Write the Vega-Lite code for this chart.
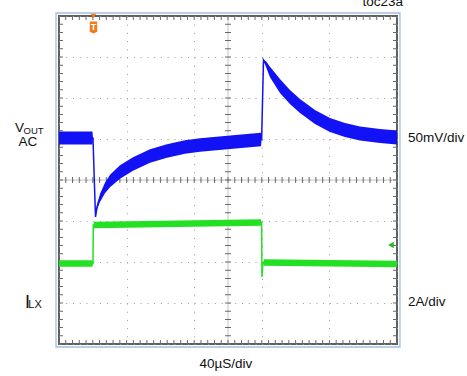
{
  "$schema": "https://vega.github.io/schema/vega-lite/v6.json",
  "width": 338,
  "height": 328,
  "autosize": {"type": "none"},
  "padding": {"left": 59, "top": 16, "right": 70, "bottom": 32},
  "background": "white",
  "config": {
    "view": {"stroke": "#5e5e5e", "strokeWidth": 2},
    "text": {"font": "Liberation Sans", "color": "#111111", "fontSize": 13.5}
  },
  "datasets": {
    "traces": [
      {"ch": "VOUT", "t": 0, "v": 1.024, "lo": 0.864, "hi": 1.184},
      {"ch": "VOUT", "t": 39.6, "v": 1.024, "lo": 0.864, "hi": 1.184},
      {"ch": "VOUT", "t": 40.2, "v": 1.024, "lo": 1.024, "hi": 1.024},
      {"ch": "VOUT", "t": 43.2, "v": -0.902, "lo": -0.902, "hi": -0.902},
      {"ch": "VOUT", "t": 45.0, "v": -0.659, "lo": -0.719, "hi": -0.599},
      {"ch": "VOUT", "t": 48.5, "v": -0.439, "lo": -0.539, "hi": -0.339},
      {"ch": "VOUT", "t": 54.4, "v": -0.195, "lo": -0.325, "hi": -0.065},
      {"ch": "VOUT", "t": 60.4, "v": -0.024, "lo": -0.174, "hi": 0.126},
      {"ch": "VOUT", "t": 72.2, "v": 0.195, "lo": 0.03, "hi": 0.36},
      {"ch": "VOUT", "t": 87.6, "v": 0.39, "lo": 0.225, "hi": 0.555},
      {"ch": "VOUT", "t": 107.7, "v": 0.585, "lo": 0.42, "hi": 0.75},
      {"ch": "VOUT", "t": 127.8, "v": 0.707, "lo": 0.542, "hi": 0.872},
      {"ch": "VOUT", "t": 149.1, "v": 0.805, "lo": 0.64, "hi": 0.97},
      {"ch": "VOUT", "t": 166.9, "v": 0.854, "lo": 0.689, "hi": 1.019},
      {"ch": "VOUT", "t": 205.9, "v": 0.927, "lo": 0.762, "hi": 1.092},
      {"ch": "VOUT", "t": 239.0, "v": 0.988, "lo": 0.823, "hi": 1.153},
      {"ch": "VOUT", "t": 239.8, "v": 0.988, "lo": 0.988, "hi": 0.988},
      {"ch": "VOUT", "t": 242.0, "v": 2.927, "lo": 2.927, "hi": 2.927},
      {"ch": "VOUT", "t": 245.0, "v": 2.829, "lo": 2.759, "hi": 2.899},
      {"ch": "VOUT", "t": 249.7, "v": 2.634, "lo": 2.504, "hi": 2.764},
      {"ch": "VOUT", "t": 261.5, "v": 2.293, "lo": 2.123, "hi": 2.463},
      {"ch": "VOUT", "t": 273.3, "v": 2.024, "lo": 1.854, "hi": 2.194},
      {"ch": "VOUT", "t": 285.2, "v": 1.805, "lo": 1.635, "hi": 1.975},
      {"ch": "VOUT", "t": 302.9, "v": 1.537, "lo": 1.367, "hi": 1.707},
      {"ch": "VOUT", "t": 320.7, "v": 1.341, "lo": 1.171, "hi": 1.511},
      {"ch": "VOUT", "t": 338.4, "v": 1.22, "lo": 1.05, "hi": 1.39},
      {"ch": "VOUT", "t": 356.2, "v": 1.134, "lo": 0.964, "hi": 1.304},
      {"ch": "VOUT", "t": 379.9, "v": 1.073, "lo": 0.903, "hi": 1.243},
      {"ch": "VOUT", "t": 400, "v": 1.037, "lo": 0.867, "hi": 1.207},
      {"ch": "ILX", "t": 0, "v": -2.037, "lo": -2.115, "hi": -1.959},
      {"ch": "ILX", "t": 39.6, "v": -2.037, "lo": -2.115, "hi": -1.959},
      {"ch": "ILX", "t": 40.2, "v": -2.037, "lo": -2.037, "hi": -2.037},
      {"ch": "ILX", "t": 40.6, "v": -1.098, "lo": -1.098, "hi": -1.098},
      {"ch": "ILX", "t": 41.4, "v": -1.098, "lo": -1.178, "hi": -1.018},
      {"ch": "ILX", "t": 239.0, "v": -1.037, "lo": -1.117, "hi": -0.957},
      {"ch": "ILX", "t": 239.8, "v": -1.037, "lo": -1.037, "hi": -1.037},
      {"ch": "ILX", "t": 240.2, "v": -2.366, "lo": -2.366, "hi": -2.366},
      {"ch": "ILX", "t": 241.4, "v": -2.024, "lo": -2.024, "hi": -2.024},
      {"ch": "ILX", "t": 242.6, "v": -2.012, "lo": -2.092, "hi": -1.932},
      {"ch": "ILX", "t": 320.7, "v": -2.032, "lo": -2.112, "hi": -1.952},
      {"ch": "ILX", "t": 400, "v": -2.049, "lo": -2.129, "hi": -1.969}
    ]
  },
  "layer": [
    {
      "data": {"name": "traces"},
      "mark": {"type": "area", "clip": true, "opacity": 0},
      "encoding": {
        "x": {"field": "t", "type": "quantitative",
              "scale": {"domain": [0, 400], "nice": false, "zero": false},
              "axis": {"values": [0, 40, 80, 120, 160, 200, 240, 280, 320, 360, 400], "grid": true, "gridDash": [1, 7.2], "gridColor": "#9a9a9a", "domain": false, "ticks": false, "labels": false, "title": null}},
        "y": {"field": "lo", "type": "quantitative",
              "scale": {"domain": [-4, 4], "nice": false, "zero": false},
              "axis": {"values": [-4, -3, -2, -1, 0, 1, 2, 3, 4], "grid": true, "gridDash": [1, 5.76], "gridColor": "#9a9a9a", "domain": false, "ticks": false, "labels": false, "title": null}},
        "y2": {"field": "hi"},
        "color": {"field": "ch", "type": "nominal", "scale": {"domain": ["VOUT", "ILX"], "range": ["#1212f5", "#24e024"]}, "legend": null}
      }
    },
    {
      "data": {"values": [{}]},
      "mark": {"type": "rule", "color": "#c4c4c4", "strokeWidth": 1},
      "encoding": {"y": {"datum": 0}}
    },
    {
      "data": {"values": [{}]},
      "mark": {"type": "rule", "color": "#c4c4c4", "strokeWidth": 1},
      "encoding": {"x": {"datum": 200}}
    },
    {
      "data": {"values": [{}]},
      "mark": {"type": "rule", "color": "#6a6a6a", "strokeWidth": 6, "strokeDash": [1, 5.76], "strokeDashOffset": 0.5},
      "encoding": {"y": {"datum": 0}}
    },
    {
      "data": {"values": [{}]},
      "mark": {"type": "rule", "color": "#6a6a6a", "strokeWidth": 6, "strokeDash": [1, 7.2], "strokeDashOffset": 0.5},
      "encoding": {"x": {"datum": 200}}
    },
    {
      "data": {"values": [{}]},
      "mark": {"type": "rule", "color": "#6a6a6a", "strokeWidth": 8, "strokeDash": [1, 5.76], "strokeDashOffset": 0.5, "clip": true},
      "encoding": {"y": {"datum": 4}}
    },
    {
      "data": {"values": [{}]},
      "mark": {"type": "rule", "color": "#6a6a6a", "strokeWidth": 8, "strokeDash": [1, 5.76], "strokeDashOffset": 0.5, "clip": true},
      "encoding": {"y": {"datum": -4}}
    },
    {
      "data": {"values": [{}]},
      "mark": {"type": "rule", "color": "#6a6a6a", "strokeWidth": 8, "strokeDash": [1, 7.2], "strokeDashOffset": 0.5, "clip": true},
      "encoding": {"x": {"datum": 0}}
    },
    {
      "data": {"values": [{}]},
      "mark": {"type": "rule", "color": "#6a6a6a", "strokeWidth": 8, "strokeDash": [1, 7.2], "strokeDashOffset": 0.5, "clip": true},
      "encoding": {"x": {"datum": 400}}
    },
    {
      "data": {"name": "traces"},
      "mark": {"type": "area", "clip": true},
      "encoding": {
        "x": {"field": "t", "type": "quantitative"},
        "y": {"field": "lo", "type": "quantitative"},
        "y2": {"field": "hi"},
        "color": {"field": "ch", "type": "nominal", "legend": null}
      }
    },
    {
      "data": {"name": "traces"},
      "mark": {"type": "line", "clip": true, "strokeWidth": 1.5},
      "encoding": {
        "x": {"field": "t", "type": "quantitative"},
        "y": {"field": "v", "type": "quantitative"},
        "color": {"field": "ch", "type": "nominal", "legend": null}
      }
    },
    {
      "data": {"values": [{}]},
      "mark": {"type": "rect", "fillOpacity": 0, "stroke": "#a3bfdf", "strokeWidth": 1.3},
      "encoding": {"x": {"datum": -3.55}, "x2": {"datum": 403.5}, "y": {"datum": 4.073}, "y2": {"datum": -4.073}}
    },
    {
      "data": {"values": [{}]},
      "mark": {"type": "point", "shape": "triangle-down", "filled": true, "size": 30, "color": "#f07a1e", "opacity": 1},
      "encoding": {"x": {"datum": 40.8}, "y": {"datum": 4.0}}
    },
    {
      "data": {"values": [{}]},
      "mark": {"type": "point", "shape": "M-0.62,-1L0.62,-1L0.62,0.7L0,1L-0.62,0.7Z", "filled": true, "size": 144, "color": "#f07a1e", "opacity": 1},
      "encoding": {"x": {"datum": 40.8}, "y": {"datum": 3.72}}
    },
    {
      "data": {"values": [{}]},
      "mark": {"type": "text", "color": "white", "fontSize": 9, "fontWeight": "bold", "baseline": "middle", "align": "center"},
      "encoding": {"x": {"datum": 40.8}, "y": {"datum": 3.72}, "text": {"value": "T"}}
    },
    {
      "data": {"values": [{}]},
      "mark": {"type": "point", "shape": "triangle-left", "filled": true, "size": 40, "color": "#22b822", "opacity": 1},
      "encoding": {"x": {"datum": 392.9}, "y": {"datum": -1.585}}
    },
    {
      "data": {"values": [{}]},
      "mark": {"type": "text", "align": "left", "baseline": "alphabetic", "fontSize": 13.5},
      "encoding": {"x": {"datum": -52.1}, "y": {"datum": 1.178}, "text": {"value": "V"}}
    },
    {
      "data": {"values": [{}]},
      "mark": {"type": "text", "align": "left", "baseline": "alphabetic", "fontSize": 9.5},
      "encoding": {"x": {"datum": -42.0}, "y": {"datum": 1.122}, "text": {"value": "OUT"}}
    },
    {
      "data": {"values": [{}]},
      "mark": {"type": "text", "align": "center", "baseline": "alphabetic", "fontSize": 13.5},
      "encoding": {"x": {"datum": -36.9}, "y": {"datum": 0.841}, "text": {"value": "AC"}}
    },
    {
      "data": {"values": [{}]},
      "mark": {"type": "text", "align": "left", "baseline": "alphabetic", "fontSize": 18},
      "encoding": {"x": {"datum": -40.2}, "y": {"datum": -3.122}, "text": {"value": "I"}}
    },
    {
      "data": {"values": [{}]},
      "mark": {"type": "text", "align": "left", "baseline": "alphabetic", "fontSize": 11},
      "encoding": {"x": {"datum": -36.3}, "y": {"datum": -3.122}, "text": {"value": "LX"}}
    },
    {
      "data": {"values": [{}]},
      "mark": {"type": "text", "align": "left", "baseline": "alphabetic", "fontSize": 13.5},
      "encoding": {"x": {"datum": 412.9}, "y": {"datum": 0.934}, "text": {"value": "50mV/div"}}
    },
    {
      "data": {"values": [{}]},
      "mark": {"type": "text", "align": "left", "baseline": "alphabetic", "fontSize": 13.5},
      "encoding": {"x": {"datum": 412.9}, "y": {"datum": -3.073}, "text": {"value": "2A/div"}}
    },
    {
      "data": {"values": [{}]},
      "mark": {"type": "text", "align": "center", "baseline": "alphabetic", "fontSize": 13.5},
      "encoding": {"x": {"datum": 197.6}, "y": {"datum": -4.585}, "text": {"value": "40µS/div"}}
    },
    {
      "data": {"values": [{}]},
      "mark": {"type": "text", "align": "right", "baseline": "alphabetic", "fontSize": 13.5},
      "encoding": {"x": {"datum": 407.1}, "y": {"datum": 4.24}, "text": {"value": "toc23a"}}
    }
  ]
}
